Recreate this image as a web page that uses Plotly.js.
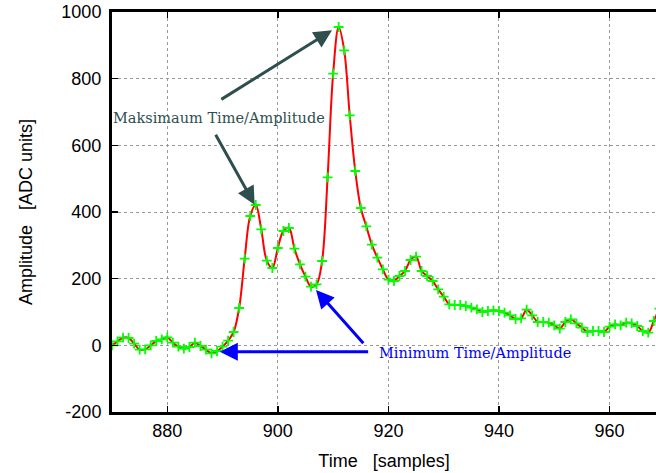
<!DOCTYPE html>
<html><head><meta charset="utf-8">
<script src="https://cdn.plot.ly/plotly-3.0.1.min.js"></script>
<style>html,body{margin:0;padding:0;background:#fff;}#chart{width:656px;height:473px;}</style>
</head><body><div id="chart"></div>
<script>
const timeSamples = [870,871,872,873,874,875,876,877,878,879,
  880,881,882,883,884,885,886,887,888,889,
  890,891,892,893,894,895,896,897,898,899,
  900,901,902,903,904,905,906,907,908,909,
  910,911,912,913,914,915,916,917,918,919,
  920,921,922,923,924,925,926,927,928,929,
  930,931,932,933,934,935,936,937,938,939,
  940,941,942,943,944,945,946,947,948,949,
  950,951,952,953,954,955,956,957,958,959,
  960,961,962,963,964,965,966,967,968,969];
const amplitude = [0,12,23,22,5,-13,-12,0,13,18,
  24,8,-4,-10,-5,8,-2,-13,-24,-17,
  -4,14,40,112,260,388,421,348,254,232,
  292,343,352,290,243,206,176,183,253,504,
  815,955,885,690,523,412,357,302,263,228,
  197,193,208,223,256,266,223,208,193,168,
  146,123,121,121,118,113,108,100,103,105,
  103,98,90,79,81,107,90,70,70,68,
  60,50,70,78,66,53,40,43,43,40,
  56,63,60,68,66,58,43,38,73,110];
const xTickValues = [880,900,920,940,960];
const xTickLabels = ['880','900','920','940','960'];
const yTickValues = [-200,0,200,400,600,800,1000];
const yTickLabels = ['-200','0','200','400','600','800','1000'];

const sans = 'Liberation Sans, Arial, sans-serif';
const serif = 'DejaVu Serif, serif';

const trace = {
  x: timeSamples, y: amplitude, type: 'scatter', mode: 'lines+markers',
  line: {color: '#ff0000', width: 2, shape: 'spline', smoothing: 1},
  marker: {symbol: 'cross-thin', size: 7, color: '#00ff00', line: {color: '#00ff00', width: 1.8}},
  cliponaxis: true, showlegend: false, hoverinfo: 'none'
};

const axisCommon = {
  ticks: 'inside', ticklen: 6, tickwidth: 1.5, tickcolor: '#000',
  showline: true, linewidth: 3, linecolor: '#000',
  showgrid: true, gridcolor: '#999999', griddash: 'dot', gridwidth: 1,
  zeroline: false, tickfont: {family: sans, size: 18, color: '#000'}
};

const arrowBase = {axref: 'x', ayref: 'y', showarrow: true, text: '', arrowhead: 2, arrowsize: 1.2, arrowwidth: 3};

const layout = {
  width: 656, height: 473,
  margin: {l: 112, r: 0, t: 12, b: 61},
  paper_bgcolor: '#fff', plot_bgcolor: '#fff',
  xaxis: Object.assign({}, axisCommon, {
    range: [870, 968.4], tickmode: 'array', tickvals: xTickValues, ticktext: xTickLabels,
    mirror: 'ticks',
    title: {text: 'Time\u00a0\u00a0\u00a0[samples]', font: {family: sans, size: 18, color: '#000'}, standoff: 15}
  }),
  yaxis: Object.assign({}, axisCommon, {
    range: [-200, 1000], tickmode: 'array', tickvals: yTickValues, ticktext: yTickLabels,
    mirror: false, ticklabelstandoff: 4,
    title: {text: 'Amplitude\u00a0\u00a0\u00a0[ADC units]', font: {family: sans, size: 18, color: '#000'}, standoff: 25}
  }),
  annotations: [
    Object.assign({}, arrowBase, {x: 909.8, y: 945, ax: 889.5, ay: 735, arrowcolor: '#2f4f4f'}),
    Object.assign({}, arrowBase, {x: 895.8, y: 422, ax: 888.6, ay: 636, arrowcolor: '#2f4f4f'}),
    {x: 889.3, y: 681, xref: 'x', yref: 'y', showarrow: false, text: 'Maksimaum Time/Amplitude',
     font: {family: serif, size: 14.5, color: '#2f4f4f'}},
    Object.assign({}, arrowBase, {x: 889.5, y: -19, ax: 916.6, ay: -19, arrowcolor: '#0000ff'}),
    Object.assign({}, arrowBase, {x: 906.9, y: 166, ax: 915.7, ay: 2, arrowcolor: '#0000ff'}),
    {x: 935.6, y: -22, xref: 'x', yref: 'y', showarrow: false, text: 'Minimum Time/Amplitude',
     font: {family: serif, size: 14.5, color: '#0000ff'}}
  ]
};

Plotly.newPlot('chart', [trace], layout, {staticPlot: true, displayModeBar: false});
</script>
</body></html>
